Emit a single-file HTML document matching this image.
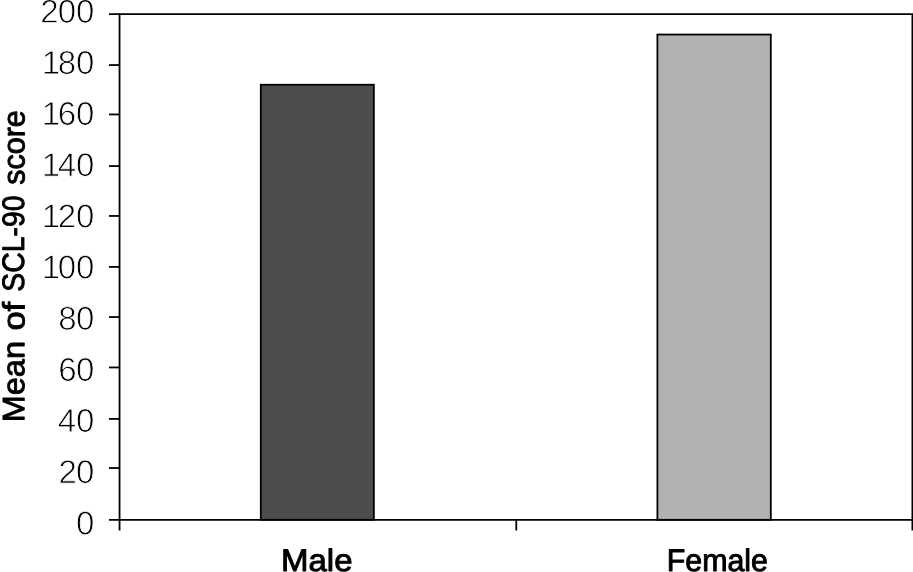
<!DOCTYPE html>
<html lang="en">
<head>
<meta charset="utf-8">
<title>Mean of SCL-90 score by gender</title>
<style>
html,body{margin:0;padding:0;background:#fff;}
body{width:913px;height:572px;overflow:hidden;}
svg{display:block;}
text{font-family:"Liberation Sans",sans-serif;fill:#000;text-rendering:geometricPrecision;}
.tk{font-size:33.2px;text-anchor:end;stroke:#fff;stroke-width:0.8px;letter-spacing:0px;}
.cat{font-size:31.2px;stroke:#000;stroke-width:0.95px;stroke-linejoin:round;}
.yt{font-size:31.0px;stroke:#000;stroke-width:0.9px;stroke-linejoin:round;}
.ax{stroke:#000;stroke-width:1.8;fill:none;stroke-linecap:butt;}
</style>
</head>
<body>
<svg width="913" height="572" viewBox="0 0 913 572">
<rect x="0" y="0" width="913" height="572" fill="#fff"/>
<rect class="ax" x="260.8" y="84.75" width="113.05" height="435.05" style="fill:#4d4d4d"/>
<rect class="ax" x="657.4" y="34.55" width="113.4" height="485.25" style="fill:#b2b2b2"/>
<path class="ax" d="M109.00 14.15 H912.40 V530.40"/>
<path class="ax" d="M119.55 13.25 V530.40"/>
<path class="ax" d="M109.00 519.80 H912.40"/>
<path class="ax" d="M516.27 519.80 V530.40"/>
<path class="ax" d="M109.00 65.05 H119.55"/>
<path class="ax" d="M109.00 114.45 H119.55"/>
<path class="ax" d="M109.00 166.05 H119.55"/>
<path class="ax" d="M109.00 215.95 H119.55"/>
<path class="ax" d="M109.00 266.90 H119.55"/>
<path class="ax" d="M109.00 317.05 H119.55"/>
<path class="ax" d="M109.00 367.45 H119.55"/>
<path class="ax" d="M109.00 418.90 H119.55"/>
<path class="ax" d="M109.00 468.05 H119.55"/>
<text class="tk" dx="0 -0.9" transform="translate(94.45 22.80) rotate(0.03) scale(0.995 1)">200</text>
<text class="tk" dx="0 -2.4" transform="translate(94.45 73.96) rotate(0.03) scale(0.995 1)">180</text>
<text class="tk" dx="0 -2.4" transform="translate(94.45 125.12) rotate(0.03) scale(0.995 1)">160</text>
<text class="tk" dx="0 -2.4" transform="translate(94.45 176.28) rotate(0.03) scale(0.995 1)">140</text>
<text class="tk" dx="0 -2.4" transform="translate(94.45 227.44) rotate(0.03) scale(0.995 1)">120</text>
<text class="tk" dx="0 -2.4" transform="translate(94.45 278.60) rotate(0.03) scale(0.995 1)">100</text>
<text class="tk" dx="0 -0.5" transform="translate(94.45 329.76) rotate(0.03) scale(0.995 1)">80</text>
<text class="tk" dx="0 -0.5" transform="translate(94.45 380.92) rotate(0.03) scale(0.995 1)">60</text>
<text class="tk" transform="translate(94.45 432.08) rotate(0.03) scale(0.995 1)">40</text>
<text class="tk" dx="0 -0.9" transform="translate(94.45 483.24) rotate(0.03) scale(0.995 1)">20</text>
<text class="tk" transform="translate(94.45 534.40) rotate(0.03) scale(0.995 1)">0</text>
<text class="cat" x="281.03" y="570.80" textLength="71.53" lengthAdjust="spacingAndGlyphs">Male</text>
<text class="cat" x="666.78" y="570.80" textLength="101.22" lengthAdjust="spacingAndGlyphs">Female</text>
<text class="yt" transform="translate(24.55 0) rotate(-89.97)"><tspan x="-422.20" textLength="81.10" lengthAdjust="spacingAndGlyphs">Mean</tspan> <tspan x="-330.59" textLength="28.75" lengthAdjust="spacingAndGlyphs">of</tspan> <tspan x="-291.77" textLength="96.27" lengthAdjust="spacingAndGlyphs">SCL-90</tspan> <tspan x="-184.87" textLength="74.65" lengthAdjust="spacingAndGlyphs">score</tspan></text>
</svg>
</body>
</html>
